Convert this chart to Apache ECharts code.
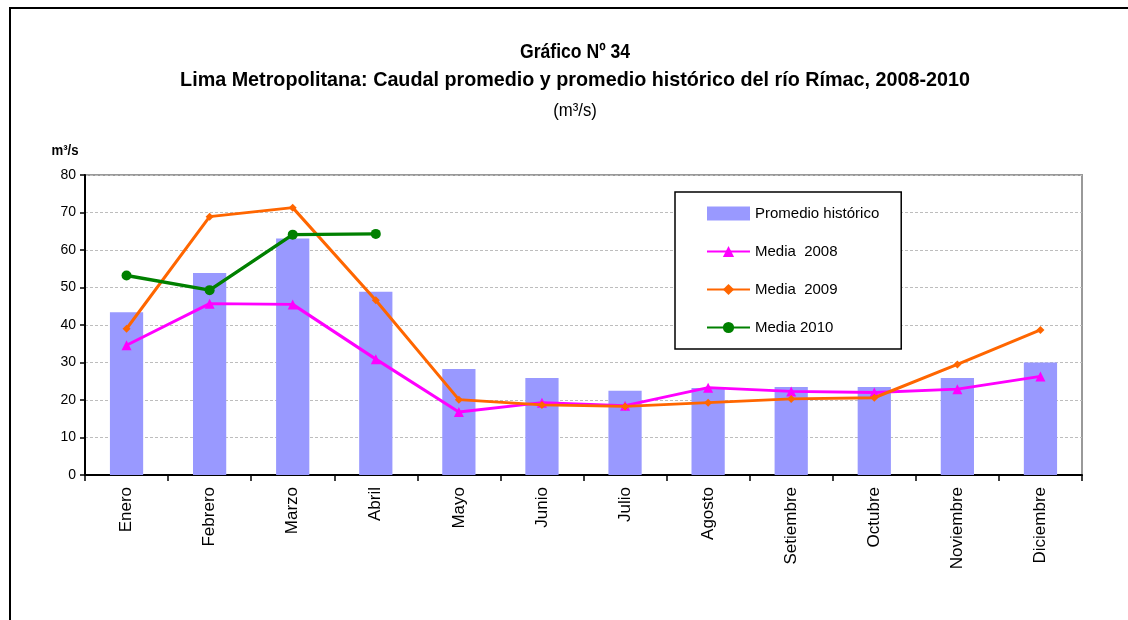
<!DOCTYPE html>
<html>
<head>
<meta charset="utf-8">
<script src="https://cdn.jsdelivr.net/npm/echarts@6/dist/echarts.min.js"></script>
<style>
  html, body { margin: 0; padding: 0; background: #fff; }
  #chart { width: 1128px; height: 620px; }
</style>
</head>
<body>
<div id="chart"></div>
<script>
// Monthly flow of the Rímac river (m³/s)
const months = ['Enero', 'Febrero', 'Marzo', 'Abril', 'Mayo', 'Junio', 'Julio',
  'Agosto', 'Setiembre', 'Octubre', 'Noviembre', 'Diciembre'];
const promedioHistorico = [43.4, 53.9, 63.1, 48.9, 28.3, 25.9, 22.5, 23.2, 23.5, 23.5, 25.9, 30.0];
const media2008 = [34.6, 45.7, 45.5, 30.9, 16.8, 19.3, 18.5, 23.3, 22.3, 22.0, 22.9, 26.3];
const media2009 = [39.0, 68.9, 71.3, 46.6, 20.1, 18.7, 18.3, 19.3, 20.3, 20.6, 29.5, 38.7];
const media2010 = [53.2, 49.3, 64.1, 64.3];
const yTicks = { min: 0, max: 80, interval: 10 };

const sans = '"Liberation Sans", Arial, sans-serif';

const chart = echarts.init(document.getElementById('chart'), null, { renderer: 'canvas' });

// condensed heading text: horizontally squeezed around its centre
function heading(text, y, font, squeeze) {
  return {
    type: 'text', x: 575, y: y, scaleX: squeeze,
    style: { text: text, font: font, fill: '#000', textAlign: 'center', textVerticalAlign: 'middle' }
  };
}

chart.setOption({
  animation: false,
  backgroundColor: '#ffffff',
  graphic: [
    {
      type: 'rect', silent: true, z: 0,
      shape: { x: 10, y: 8, width: 1300, height: 800 },
      style: { fill: 'none', stroke: '#000', lineWidth: 2 }
    },
    heading('Gráfico Nº 34', 52, 'bold 20px ' + sans, 0.88),
    heading('Lima Metropolitana: Caudal promedio y promedio histórico del río Rímac, 2008-2010', 80, 'bold 21px ' + sans, 0.94),
    heading('(m³/s)', 111, '19px ' + sans, 0.88),
    {
      type: 'text', x: 65, y: 151, scaleX: 0.88,
      style: { text: 'm³/s', font: 'bold 15px ' + sans, fill: '#000',
        textAlign: 'center', textVerticalAlign: 'middle' }
    }
  ],
  grid: {
    left: 85, right: 46, top: 175, bottom: 145,
    show: true, borderColor: '#999', borderWidth: 2, backgroundColor: 'transparent'
  },
  legend: {
    orient: 'vertical',
    left: 675, top: 192,
    padding: [14, 22, 14, 31],
    itemWidth: 43, itemHeight: 14, itemGap: 23,
    backgroundColor: '#fff',
    borderColor: '#000', borderWidth: 1.5,
    textStyle: { fontFamily: sans, fontSize: 15, color: '#000' },
    data: [
      { name: 'Promedio histórico', icon: 'rect' },
      'Media  2008', 'Media  2009', 'Media 2010'
    ]
  },
  xAxis: {
    type: 'category',
    data: months,
    boundaryGap: true,
    axisLine: { lineStyle: { color: '#000', width: 2 } },
    axisTick: { show: true, length: 6, alignWithLabel: false, lineStyle: { color: '#000', width: 1.5 } },
    axisLabel: { rotate: 90, margin: 12, fontFamily: sans, fontSize: 17, color: '#000', interval: 0 }
  },
  yAxis: {
    type: 'value',
    min: yTicks.min, max: yTicks.max, interval: yTicks.interval,
    axisLine: { show: true, lineStyle: { color: '#000', width: 2 } },
    axisTick: { show: true, length: 5, lineStyle: { color: '#000', width: 1.5 } },
    axisLabel: { fontFamily: sans, fontSize: 14, color: '#000', margin: 9 },
    splitLine: { show: true, lineStyle: { color: '#bdbdbd', type: [3, 2], width: 1 } }
  },
  series: [
    {
      name: 'Promedio histórico', type: 'bar', data: promedioHistorico,
      barWidth: '40%', itemStyle: { color: '#9999FF' }, z: 1
    },
    {
      name: 'Media  2008', type: 'line', data: media2008,
      lineStyle: { color: '#FF00FF', width: 3 }, itemStyle: { color: '#FF00FF' },
      symbol: 'triangle', symbolSize: 10, showAllSymbol: true, z: 3
    },
    {
      name: 'Media  2009', type: 'line', data: media2009,
      lineStyle: { color: '#FF6600', width: 3 }, itemStyle: { color: '#FF6600' },
      symbol: 'diamond', symbolSize: 8, showAllSymbol: true, z: 4
    },
    {
      name: 'Media 2010', type: 'line', data: media2010,
      lineStyle: { color: '#008000', width: 3.5 }, itemStyle: { color: '#008000' },
      symbol: 'circle', symbolSize: 10, showAllSymbol: true, z: 5
    }
  ]
});
</script>
</body>
</html>
